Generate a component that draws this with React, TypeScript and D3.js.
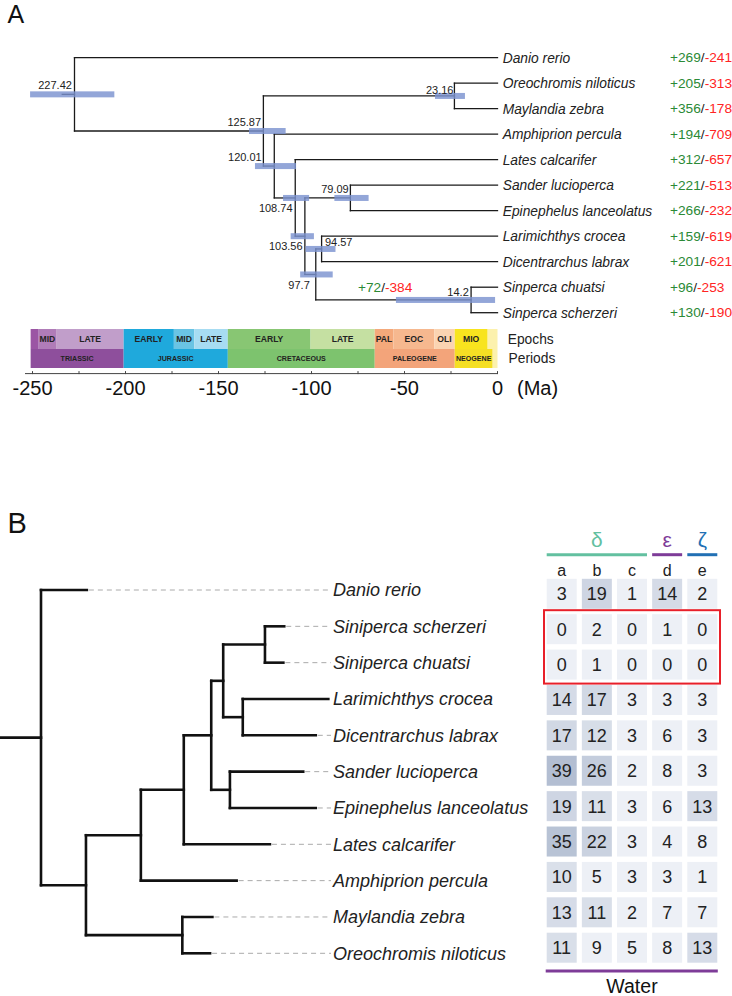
import React from 'react';
import * as d3 from 'd3';

const FONT = '"Liberation Sans", Arial, Helvetica, sans-serif';

// ---------------- Panel A data ----------------
const speciesA = [
  'Danio rerio', 'Oreochromis niloticus', 'Maylandia zebra', 'Amphiprion percula',
  'Lates calcarifer', 'Sander lucioperca', 'Epinephelus lanceolatus', 'Larimichthys crocea',
  'Dicentrarchus labrax', 'Sinperca chuatsi', 'Sinperca scherzeri',
];
const gainsA = [269, 205, 356, 194, 312, 221, 266, 159, 201, 96, 130];
const lossesA = [241, 313, 178, 709, 657, 513, 232, 619, 621, 253, 190];

const nodeIdsA = ['root', 'n1', 'cich', 'n2', 'n3', 'n4', 'sanEpi', 'n5', 'larDic', 'sin'];
const nodeAgesA = [227.42, 125.87, 23.16, 120.01, 108.74, 103.56, 79.09, 97.7, 94.57, 14.2];
const ciLowA = [206, 113.9, 17.5, 108.3, 101.3, 98.7, 69.3, 88.6, 87.1, 1.3];
const ciHighA = [251.3, 133.6, 33.6, 130.4, 115.3, 111.2, 87.7, 106.1, 103.2, 54.6];
const childrenA = [
  ['Danio rerio', 'n1'],
  ['cich', 'n2'],
  ['Oreochromis niloticus', 'Maylandia zebra'],
  ['Amphiprion percula', 'n3'],
  ['Lates calcarifer', 'n4'],
  ['sanEpi', 'n5'],
  ['Sander lucioperca', 'Epinephelus lanceolatus'],
  ['larDic', 'sin'],
  ['Larimichthys crocea', 'Dicentrarchus labrax'],
  ['Sinperca chuatsi', 'Sinperca scherzeri'],
];
const branchGainNode = 'sin';
const branchGain = 72;
const branchLoss = 384;

// geological time scale
const epochNames = ['', 'MID', 'LATE', 'EARLY', 'MID', 'LATE', 'EARLY', 'LATE', 'PAL', 'EOC', 'OLI', 'MIO', ''];
const epochStarts = [251, 247, 237, 201, 174, 163, 145, 100.5, 66, 56, 34, 23, 5.3];
const epochEnds = [247, 237, 201, 174, 163, 145, 100.5, 66, 56, 34, 23, 5.3, 0];
const periodNames = ['TRIASSIC', 'JURASSIC', 'CRETACEOUS', 'PALEOGENE', 'NEOGENE', ''];
const periodStarts = [251, 201, 145, 66, 23, 2.6];
const periodEnds = [201, 145, 66, 23, 2.6, 0];
const axisTicks = d3.range(-250, 1, 25);

// ---------------- Panel B data ----------------
const speciesB = [
  'Danio rerio', 'Siniperca scherzeri', 'Siniperca chuatsi', 'Larimichthys crocea',
  'Dicentrarchus labrax', 'Sander lucioperca', 'Epinephelus lanceolatus', 'Lates calcarifer',
  'Amphiprion percula', 'Maylandia zebra', 'Oreochromis niloticus',
];
const tipDepthB = [0.157, 0.833, 0.83, 0.984, 0.941, 0.898, 0.941, 0.784, 0.67, 0.587, 0.579];
const nodeIdsB = ['root', 'A', 'cich', 'B', 'C', 'D', 'F', 'H', 'G', 'E'];
const nodeDepthB = [0, 0.154, 0.484, 0.342, 0.489, 0.583, 0.624, 0.767, 0.691, 0.647];
const childrenB = [
  ['Danio rerio', 'A'],
  ['B', 'cich'],
  ['Maylandia zebra', 'Oreochromis niloticus'],
  ['C', 'Amphiprion percula'],
  ['D', 'Lates calcarifer'],
  ['F', 'E'],
  ['H', 'G'],
  ['Siniperca scherzeri', 'Siniperca chuatsi'],
  ['Larimichthys crocea', 'Dicentrarchus labrax'],
  ['Sander lucioperca', 'Epinephelus lanceolatus'],
];

const columns = ['a', 'b', 'c', 'd', 'e'];
const countA = [3, 0, 0, 14, 17, 39, 19, 35, 10, 13, 11];
const countB = [19, 2, 1, 17, 12, 26, 11, 22, 5, 11, 9];
const countC = [1, 0, 0, 3, 3, 2, 3, 3, 3, 2, 5];
const countD = [14, 1, 0, 3, 6, 8, 6, 4, 3, 7, 8];
const countE = [2, 0, 0, 3, 3, 3, 13, 8, 1, 7, 13];
const groupNames = ['δ', 'ε', 'ζ'];
const groupColumns = [['a', 'b', 'c'], ['d'], ['e']];
const highlightRows = ['Siniperca scherzeri', 'Siniperca chuatsi'];
const footerLabel = 'Water';

// ---------------- styles ----------------
const epochColors = ['#9b55a4', '#b07cb8', '#c19eca', '#1fa9dc', '#6ac4e4', '#a7dcf2', '#88c673', '#c5e0a2', '#f4a97b', '#f6b88f', '#fbd4b2', '#f8e41e', '#fcf1ad'];
const periodColors = ['#8e4f9c', '#1fa9dc', '#7dc36e', '#f3a47a', '#f5df24', '#fcf1ad'];
const groupColors = ['#63c0a0', '#7e3c98', '#2270b4'];

// label offsets for the node ages in panel A (dx, dy, anchor)
const nodeLabelStyle: Record<string, [number, number, string]> = {
  root: [-2.6, -5, 'end'],
  n1: [-2.3, -5.3, 'end'],
  cich: [-1, -2.4, 'end'],
  n2: [-12.6, -5.4, 'end'],
  n3: [-2.7, 13.8, 'end'],
  n4: [-2.3, 13.3, 'end'],
  sanEpi: [-1.7, -5, 'end'],
  n5: [-6, 15, 'end'],
  larDic: [3.3, -3.3, 'start'],
  sin: [-2.3, -4.3, 'end'],
};

export default function App() {
  // ---------- Panel A scales ----------
  const xA = d3.scaleLinear().domain([-250, 0]).range([32.5, 497.5]);
  const yA = d3.scaleLinear().domain([0, speciesA.length - 1]).range([57.7, 312.7]);

  const childMapA: Record<string, string[]> = {};
  nodeIdsA.forEach((id, i) => (childMapA[id] = childrenA[i]));
  const ageMapA: Record<string, number> = {};
  nodeIdsA.forEach((id, i) => (ageMapA[id] = nodeAgesA[i]));

  const yOfA = (id: string): number => {
    if (childMapA[id]) {
      const c = childMapA[id];
      return (yOfA(c[0]) + yOfA(c[c.length - 1])) / 2;
    }
    return yA(speciesA.indexOf(id));
  };
  const xOfA = (id: string): number => (childMapA[id] ? xA(-ageMapA[id]) : xA(0));

  const linesA: JSX.Element[] = [];
  nodeIdsA.forEach((id, i) => {
    const nx = xOfA(id);
    const cs = childrenA[i];
    linesA.push(
      <line key={id + 'v'} x1={nx} x2={nx} y1={yOfA(cs[0])} y2={yOfA(cs[cs.length - 1])} />
    );
    cs.forEach((c) => {
      linesA.push(
        <line key={id + c} x1={nx} x2={xOfA(c)} y1={yOfA(c)} y2={yOfA(c)} />
      );
    });
  });
  const rootX = xOfA('root');
  const rootY = yOfA('root');
  linesA.push(<line key="stub" x1={xA(-(nodeAgesA[0] + 6.6))} x2={rootX} y1={rootY} y2={rootY} />);

  const timeTop = 329;
  const timeMid = 349;
  const timeBot = 368;
  const axisY = 373.6;

  // ---------- Panel B scales ----------
  const xB = d3.scaleLinear().domain([0, 1]).range([41, 333]);
  const yB = d3.scaleLinear().domain([0, speciesB.length - 1]).range([590, 953.3]);
  const childMapB: Record<string, string[]> = {};
  nodeIdsB.forEach((id, i) => (childMapB[id] = childrenB[i]));
  const depthMapB: Record<string, number> = {};
  nodeIdsB.forEach((id, i) => (depthMapB[id] = nodeDepthB[i]));
  speciesB.forEach((s, i) => (depthMapB[s] = tipDepthB[i]));
  const yOfB = (id: string): number => {
    if (childMapB[id]) {
      const c = childMapB[id];
      return (yOfB(c[0]) + yOfB(c[c.length - 1])) / 2;
    }
    return yB(speciesB.indexOf(id));
  };
  const xOfB = (id: string) => xB(depthMapB[id]);
  const labelXB = 333;

  const linesB: JSX.Element[] = [];
  nodeIdsB.forEach((id, i) => {
    const nx = xOfB(id);
    const cs = childrenB[i];
    linesB.push(
      <line key={id + 'v'} x1={nx} x2={nx} y1={yOfB(cs[0])} y2={yOfB(cs[cs.length - 1])} />
    );
    cs.forEach((c) => {
      linesB.push(<line key={id + c} x1={nx} x2={xOfB(c)} y1={yOfB(c)} y2={yOfB(c)} />);
    });
  });
  const rootBY = yOfB('root');
  linesB.push(<line key="stubB" x1={xB(-0.14)} x2={xOfB('root')} y1={rootBY} y2={rootBY} />);

  // ---------- table ----------
  const colX = d3.scalePoint().domain(columns).range([561.7, 702.3]);
  const rowY = d3.scaleLinear().domain([0, speciesB.length - 1]).range([593.8, 947.7]);
  const cellW = 30;
  const cellH = 30;
  const counts = [countA, countB, countC, countD, countE];
  const cellColor = d3
    .scaleLinear<string>()
    .domain([0, 9.99, 10, 39])
    .range(['#edf0f6', '#edf0f6', '#dae0ea', '#b3bed2'])
    .clamp(true);

  const hlIdx = highlightRows.map((r) => speciesB.indexOf(r));
  const hlTop = rowY(d3.min(hlIdx)!) - cellH / 2 - 4;
  const hlBot = rowY(d3.max(hlIdx)!) + cellH / 2 + 4;
  const tableLeft = colX(columns[0])! - cellW / 2;
  const tableRight = colX(columns[columns.length - 1])! + cellW / 2;

  return (
    <svg
      width={732}
      height={996}
      style={{ position: 'absolute', left: 0, top: 0, display: 'block', background: '#fff' }}
      fontFamily={FONT}
    >
      <rect x={0} y={0} width={732} height={996} fill="#fff" />
      {/* Panel labels */}
      <text x={7.5} y={22.8} fontSize={25} fill="#111">A</text>
      <text x={7.5} y={533.2} fontSize={29} fill="#111">B</text>

      {/* Panel A tree */}
      <g stroke="#1a1a1a" strokeWidth={1.3} strokeLinecap="square">{linesA}</g>
      {/* CI bars */}
      <g>
        {nodeIdsA.map((id, i) => (
          <rect
            key={id}
            x={xA(-ciHighA[i])}
            width={xA(-ciLowA[i]) - xA(-ciHighA[i])}
            y={yOfA(id) - 3}
            height={6}
            fill="#7b93cf"
            opacity={0.82}
          />
        ))}
      </g>
      {/* node age labels */}
      <g fontSize={11} fill="#222">
        {nodeIdsA.map((id, i) => {
          const [dx, dy, anchor] = nodeLabelStyle[id];
          return (
            <text key={id} x={xOfA(id) + dx} y={yOfA(id) + dy} textAnchor={anchor as any}>
              {String(nodeAgesA[i])}
            </text>
          );
        })}
      </g>
      {/* branch gain/loss */}
      {(() => {
        const parentIdx = childrenA.findIndex((c) => c.includes(branchGainNode));
        const px = xOfA(nodeIdsA[parentIdx]);
        const cx = xOfA(branchGainNode);
        return (
          <text x={(px + cx) / 2 - 35.5} y={yOfA(branchGainNode) - 8} fontSize={13.7}>
            <tspan fill="#2b8a36">{'+' + branchGain}</tspan>
            <tspan fill="#222">/</tspan>
            <tspan fill="#ff2424">{'-' + branchLoss}</tspan>
          </text>
        );
      })()}
      {/* tip labels */}
      <g fontSize={13.8} fill="#222">
        {speciesA.map((s, i) => (
          <text key={s} x={xA(0) + 5.2} y={yA(i)} dy="0.35em" fontStyle="italic">{s}</text>
        ))}
      </g>
      <g fontSize={13.7}>
        {speciesA.map((s, i) => (
          <text key={s} x={670} y={yA(i)} dy="0.35em">
            <tspan fill="#2b8a36">{'+' + gainsA[i]}</tspan>
            <tspan fill="#222">/</tspan>
            <tspan fill="#ff2424">{'-' + lossesA[i]}</tspan>
          </text>
        ))}
      </g>

      {/* geological time scale */}
      <g>
        {epochNames.map((n, i) => (
          <rect
            key={'e' + i}
            x={xA(-epochStarts[i])}
            width={xA(-epochEnds[i]) - xA(-epochStarts[i])}
            y={timeTop}
            height={timeMid - timeTop}
            fill={epochColors[i]}
          />
        ))}
        {periodNames.map((n, i) => (
          <rect
            key={'p' + i}
            x={xA(-periodStarts[i])}
            width={xA(-periodEnds[i]) - xA(-periodStarts[i])}
            y={timeMid}
            height={timeBot - timeMid}
            fill={periodColors[i]}
          />
        ))}
        {epochNames.map((n, i) =>
          n ? (
            <text
              key={'et' + i}
              x={(xA(-epochStarts[i]) + xA(-epochEnds[i])) / 2}
              y={(timeTop + timeMid) / 2}
              dy="0.36em"
              textAnchor="middle"
              fontSize={8.6}
              fontWeight="bold"
              fill="#222"
            >
              {n}
            </text>
          ) : null
        )}
        {periodNames.map((n, i) =>
          n ? (
            <text
              key={'pt' + i}
              x={(xA(-periodStarts[i]) + xA(-periodEnds[i])) / 2}
              y={(timeMid + timeBot) / 2}
              dy="0.36em"
              textAnchor="middle"
              fontSize={7.1}
              fontWeight="bold"
              fill="#222"
            >
              {n}
            </text>
          ) : null
        )}
        <text x={xA(0) + 10.2} y={(timeTop + timeMid) / 2} dy="0.36em" fontSize={13.8} fill="#222">Epochs</text>
        <text x={xA(0) + 11} y={(timeMid + timeBot) / 2} dy="0.36em" fontSize={13.8} fill="#222">Periods</text>
      </g>

      {/* axis */}
      <g stroke="#444" strokeWidth={1}>
        <line x1={25} x2={xA(0)} y1={axisY} y2={axisY} />
        {axisTicks.map((t) => (
          <line key={t} x1={xA(t)} x2={xA(t)} y1={axisY - 2.5} y2={axisY + 0.5} />
        ))}
      </g>
      <g fontSize={20} fill="#111">
        {axisTicks
          .filter((t) => t % 50 === 0)
          .map((t) => (
            <text key={t} x={xA(t)} y={axisY + 21.5} textAnchor="middle">
              {t === 0 ? '0' : '-' + Math.abs(t)}
            </text>
          ))}
        <text x={xA(0) + 19.5} y={axisY + 21.5}>(Ma)</text>
      </g>

      {/* Panel B tree */}
      <g stroke="#aaa" strokeWidth={1} strokeDasharray="5,4">
        {speciesB.map((s, i) =>
          xOfB(s) < labelXB - 6 ? (
            <line key={s} x1={xOfB(s) + 2} x2={labelXB - 2} y1={yB(i)} y2={yB(i)} />
          ) : null
        )}
      </g>
      <g stroke="#111" strokeWidth={2.6} strokeLinecap="square">{linesB}</g>
      <g fontSize={18} fill="#222">
        {speciesB.map((s, i) => (
          <text key={s} x={labelXB} y={yB(i)} dy="0.35em" fontStyle="italic">{s}</text>
        ))}
      </g>

      {/* table */}
      <g>
        {groupNames.map((g, i) => {
          const cols = groupColumns[i];
          const x0 = colX(cols[0])! - cellW / 2;
          const x1 = colX(cols[cols.length - 1])! + cellW / 2;
          return (
            <g key={g}>
              <line x1={x0} x2={x1} y1={554.7} y2={554.7} stroke={groupColors[i]} strokeWidth={3} />
              <text x={(x0 + x1) / 2} y={540} dy="0.35em" textAnchor="middle" fontSize={21} fill={groupColors[i]}>
                {g}
              </text>
            </g>
          );
        })}
        {columns.map((c) => (
          <text key={c} x={colX(c)} y={570.7} dy="0.35em" textAnchor="middle" fontSize={16} fill="#222">
            {c}
          </text>
        ))}
        {columns.map((c, ci) =>
          speciesB.map((s, ri) => (
            <g key={c + s}>
              <rect
                x={colX(c)! - cellW / 2}
                y={rowY(ri) - cellH / 2}
                width={cellW}
                height={cellH}
                fill={cellColor(counts[ci][ri])}
              />
              <text x={colX(c)} y={rowY(ri)} dy="0.36em" textAnchor="middle" fontSize={18} fill="#222">
                {counts[ci][ri]}
              </text>
            </g>
          ))
        )}
        <rect
          x={tableLeft - 2.7}
          y={hlTop}
          width={tableRight - tableLeft + 5.4}
          height={hlBot - hlTop}
          fill="none"
          stroke="#e8202a"
          strokeWidth={2}
        />
        <line x1={tableLeft - 1} x2={tableRight + 0.5} y1={971} y2={971} stroke="#7e3c98" strokeWidth={3} />
        <text x={(tableLeft + tableRight) / 2} y={993} textAnchor="middle" fontSize={19.5} fill="#111">
          {footerLabel}
        </text>
      </g>
    </svg>
  );
}
